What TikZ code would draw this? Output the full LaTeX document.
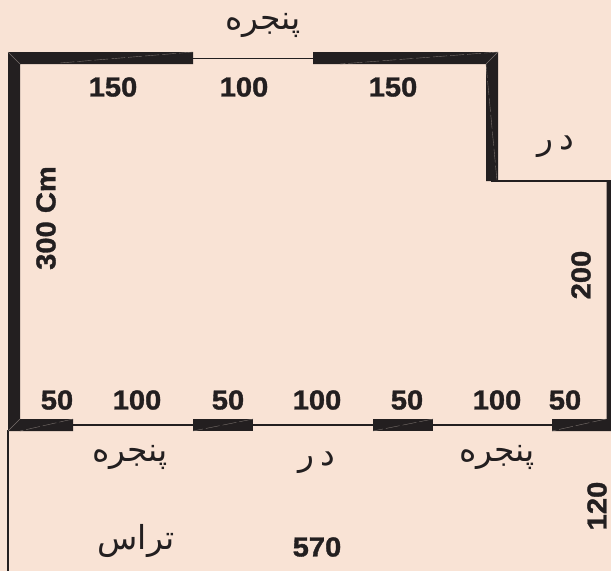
\documentclass[tikz,border=0pt]{standalone}
\usepackage{fontspec}
\setmainfont{Liberation Sans}[BoldFeatures={FakeBold=1.2,FakeStretch=1.06}]
\newfontfamily\arabicfont[Script=Arabic]{DejaVu Sans}
\TeXXeTstate=1
\definecolor{bgc}{RGB}{249,227,213}
\definecolor{ink}{RGB}{35,31,32}
\definecolor{seam}{RGB}{120,112,108}
\tikzset{
  wall/.style={fill=ink,draw=none},
  thinline/.style={draw=ink,line width=1.2pt},
  seamline/.style={draw=seam,line width=0.4pt},
  dashedseam/.style={seamline,dash pattern=on 14pt off 3pt},
  dim/.style={text=ink,inner sep=0pt,font=\fontsize{27.5}{27.5}\bfseries},
  farsi/.style={text=ink,inner sep=0pt,font=\fontsize{33}{33}\arabicfont}
}
\begin{document}
\begin{tikzpicture}[x=1pt,y=-1pt]
\useasboundingbox (0,0) rectangle (611,571);
\fill[bgc] (0,0) rectangle (611,571);
% thin lines
\draw[thinline] (193,58.5) -- (313,58.5);
\draw[thinline] (491,181) -- (611,181);
\draw[thinline] (8,425) -- (611,425);
\draw[thinline] (8,430) -- (8,571);
% walls
\fill[wall] (8,52) -- (193,52) -- (193,64) -- (20,64) -- (20,419) -- (73,419) -- (73,431) -- (8,431) -- cycle;
\fill[wall] (313,52) -- (498,52) -- (498,181) -- (486,181) -- (486,64) -- (313,64) -- cycle;
\fill[wall] (193,419) rectangle (253,431);
\fill[wall] (373,419) rectangle (433,431);
\fill[wall] (552,419) -- (606.5,419) -- (606.5,181) -- (611,181) -- (611,431) -- (552,431) -- cycle;
% seams
\draw[seamline] (8,52) -- (20,64);
\draw[seamline] (498,52) -- (486,64);
\draw[seamline] (8,431) -- (20,419);
\draw[dashedseam] (73,419) -- (20,431);
\draw[dashedseam] (253,419) -- (193,431);
\draw[dashedseam] (433,419) -- (373,431);
\draw[dashedseam] (606,419) -- (552,431);
\draw[dashedseam] (193,52) -- (60,63);
\draw[dashedseam] (498,52) -- (340,64);
\draw[dashedseam] (486,64) -- (497,181);
% dimensions
\node[dim] (d1) at (113,87) {150};
\node[dim] (d2) at (244,87) {100};
\node[dim] (d3) at (393,87) {150};
\node[dim,rotate=90] (d4) at (46,218) {300 Cm};
\node[dim,rotate=90] (d5) at (581,275) {200};
\node[dim] (d6) at (57,400) {50};
\node[dim] (d7) at (137,400) {100};
\node[dim] (d8) at (228,400) {50};
\node[dim] (d9) at (317,400) {100};
\node[dim] (d10) at (407,400) {50};
\node[dim] (d11) at (497,400) {100};
\node[dim] (d12) at (565,400) {50};
\node[dim] (d13) at (317,547) {570};
\node[dim,rotate=90] (d14) at (597,506) {120};
% Persian labels
\node[farsi] (w1) at (263,25) {\beginR پنجره\endR};
\node[farsi] (w2) at (130,457) {\beginR پنجره\endR};
\node[farsi] (w3) at (497,457) {\beginR پنجره\endR};
\node[farsi] (p1) at (556,147) {\beginR د\kern6pt ر\endR};
\node[farsi] (p2) at (317,463) {\beginR د\kern6pt ر\endR};
\node[farsi] (t) at (136,541) {\beginR تراس\endR};
\end{tikzpicture}
\end{document}
